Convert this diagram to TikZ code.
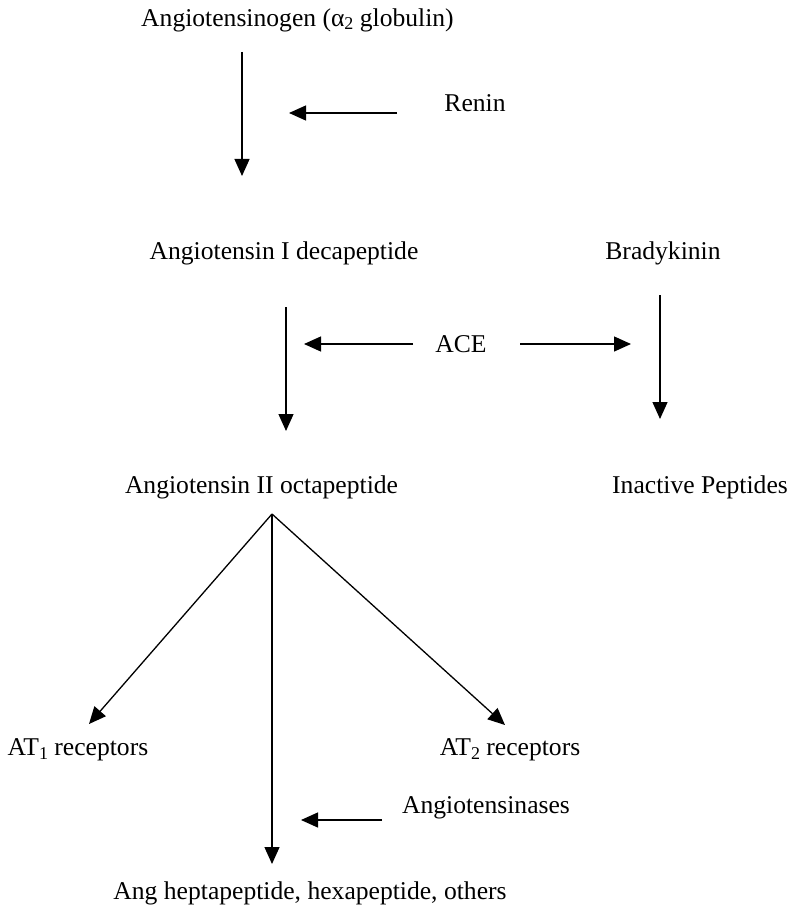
\documentclass[tikz,border=0pt]{standalone}
\usepackage{fontspec}
\setmainfont{Liberation Serif}
\usetikzlibrary{arrows.meta}
\newcommand{\subx}[1]{\raisebox{-0.28ex}{\fontsize{18}{18}\selectfont #1}}
\begin{document}
\begin{tikzpicture}[x=1pt,y=-1pt,
  lbl/.style={inner sep=0pt,anchor=center,font=\fontsize{25.6}{30}\selectfont},
  arr/.style={line width=1.3pt,-{Triangle[length=17pt,width=15pt]}}]
\useasboundingbox (0,0) rectangle (791,912);
\node[lbl] (ago) at (297.5,20) {Angiotensinogen (α\subx{2} globulin)};
\node[lbl] (renin) at (475,103) {Renin};
\node[lbl] (a1) at (284,253) {Angiotensin I decapeptide};
\node[lbl] (brady) at (663,253) {Bradykinin};
\node[lbl] (ace) at (461,344) {ACE};
\node[lbl] (a2) at (261.5,487) {Angiotensin II octapeptide};
\node[lbl] (inact) at (700,487) {Inactive Peptides};
\node[lbl] (at1) at (78,750) {AT\subx{1} receptors};
\node[lbl] (at2) at (510,750) {AT\subx{2} receptors};
\node[lbl] (ases) at (486,808) {Angiotensinases};
\node[lbl] (bot) at (310,893) {Ang heptapeptide, hexapeptide, others};
% coordinates for free ends
\coordinate (c1s) at (242,52);
\coordinate (c1e) at (242,176);
\coordinate (rs) at (397,113);
\coordinate (re) at (289,113);
\coordinate (c2s) at (286,307);
\coordinate (c2e) at (286,431);
\coordinate (bs) at (660,295);
\coordinate (be) at (660,419);
\coordinate (al) at (413,344);
\coordinate (ale) at (304,344);
\coordinate (ar) at (520,344);
\coordinate (are) at (631,344);
\coordinate (apex) at (272,514);
\coordinate (l1) at (89,724);
\coordinate (r1) at (505,725);
\coordinate (m1) at (272,864);
\coordinate (as) at (382,820);
\coordinate (ae) at (301,820);
\draw[arr] (c1s) -- (c1e);
\draw[arr] (rs) -- (re);
\draw[arr] (c2s) -- (c2e);
\draw[arr] (bs) -- (be);
\draw[arr] (al) -- (ale);
\draw[arr] (ar) -- (are);
\draw[arr] (apex) -- (l1);
\draw[arr] (apex) -- (r1);
\draw[arr] (apex) -- (m1);
\draw[arr] (as) -- (ae);
\end{tikzpicture}
\end{document}
